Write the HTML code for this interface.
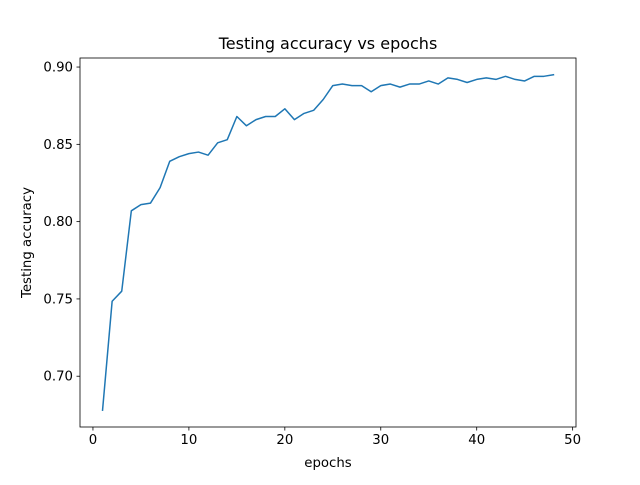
<!DOCTYPE html>
<html><head><meta charset="utf-8"><style>
body{margin:0;background:#fff;}
svg text{font-family:"DejaVu Sans","Liberation Sans",sans-serif;fill:#000;}
</style></head><body>
<svg id="chart" width="640" height="480" xmlns="http://www.w3.org/2000/svg">
<rect width="640" height="480" fill="#fff"/>
<g id="plot"></g>
</svg>
<script>
const epochs = [];
for (let i = 1; i <= 48; i++) epochs.push(i);
const accuracy = [0.678,0.7485,0.755,0.807,0.811,0.812,0.822,0.839,0.842,0.844,0.845,0.843,0.851,0.853,0.868,0.862,0.866,0.868,0.868,0.873,0.866,0.870,0.872,0.879,0.888,0.889,0.888,0.888,0.884,0.888,0.889,0.887,0.889,0.889,0.891,0.889,0.893,0.892,0.890,0.892,0.893,0.892,0.894,0.892,0.891,0.894,0.894,0.895];
const xTicks = [0,10,20,30,40,50];
const yTicks = [0.70,0.75,0.80,0.85,0.90];

const L=80,R=576,T=58,B=427;
const xmin0=Math.min(...epochs),xmax0=Math.max(...epochs);
const ymin0=Math.min(...accuracy),ymax0=Math.max(...accuracy);
const xm=(xmax0-xmin0)*0.05, ym=(ymax0-ymin0)*0.05;
const xmin=xmin0-xm,xmax=xmax0+xm,ymin=ymin0-ym,ymax=ymax0+ym;
const X=v=>L+(v-xmin)/(xmax-xmin)*(R-L);
const Y=v=>B-(v-ymin)/(ymax-ymin)*(B-T);
const NS="http://www.w3.org/2000/svg";
const g=document.getElementById('plot');
function mk(tag,attrs,text){const e=document.createElementNS(NS,tag);for(const k in attrs)e.setAttribute(k,attrs[k]);if(text!==undefined)e.textContent=text;g.appendChild(e);return e;}

const line=mk('polyline',{points:epochs.map((e,i)=>X(e).toFixed(2)+','+Y(accuracy[i]).toFixed(2)).join(' '),fill:'none',stroke:'#1f77b4','stroke-width':1.5,'stroke-linejoin':'round','stroke-linecap':'square'});



xTicks.forEach(t=>{
  const x=X(t);
  const tk=mk('line',{x1:x,x2:x,y1:B,y2:B+3.5,stroke:'#000','stroke-width':0.8});
  
  
  const lb=mk('text',{x:x,y:B+17,'text-anchor':'middle','font-size':'13.3'},String(t));
  
  
});
yTicks.forEach(t=>{
  const y=Y(t);
  const tk=mk('line',{x1:L-3.5,x2:L,y1:y,y2:y,stroke:'#000','stroke-width':0.8});
  
  
  const lb=mk('text',{x:L-7,y:y+4.5,'text-anchor':'end','font-size':'13.3'},t.toFixed(2));
  
  
});
const fr=mk('rect',{x:L,y:T,width:R-L,height:B-T,fill:'none',stroke:'#000','stroke-width':0.8});


const tt=mk('text',{x:(L+R)/2,y:T-9,'text-anchor':'middle','font-size':'16'},'Testing accuracy vs epochs');


const xl=mk('text',{x:(L+R)/2,y:467,'text-anchor':'middle','font-size':'13.3'},'epochs');


const yl=mk('text',{x:0,y:0,'text-anchor':'middle','font-size':'13.3',transform:'translate(31,'+((T+B)/2)+') rotate(-90)'},'Testing accuracy');


</script>
</body></html>
